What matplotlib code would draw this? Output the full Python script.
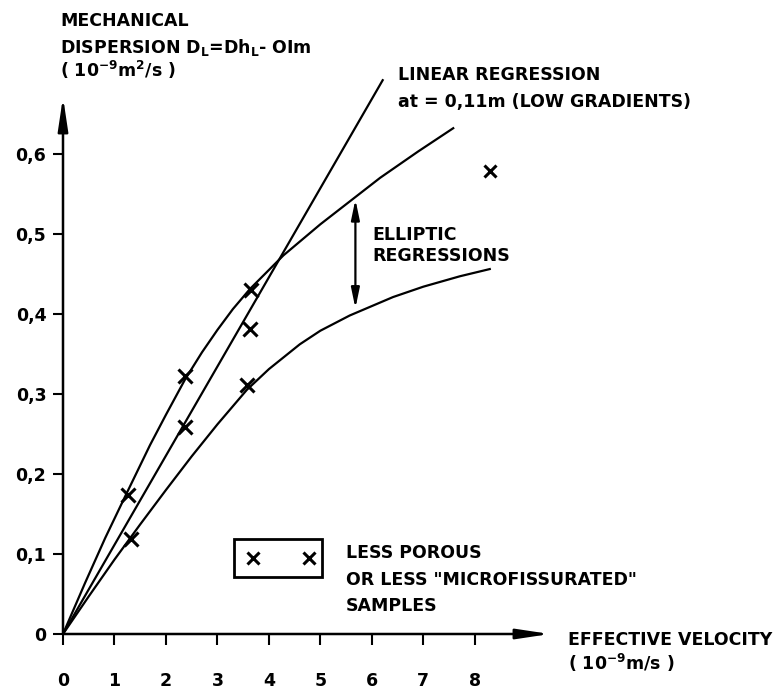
import matplotlib
matplotlib.use("Agg")
import matplotlib.pyplot as plt
from matplotlib.patches import Rectangle

# samples (velocity 10^-9 m/s, dispersion 10^-9 m2/s)
vitesse = [1.27, 1.33, 2.37, 2.37, 3.57, 3.63, 3.66]
dispersion = [0.174, 0.119, 0.322, 0.259, 0.311, 0.381, 0.430]
vitesse_hors = [8.29]
dispersion_hors = [0.578]

# linear regression, a_L = 0.11 m
lin_v = [0, 6.21]
lin_d = [0, 0.692]

# elliptic regressions (upper / lower), traced points
haut_v = [0, 0.43, 0.82, 1.2, 1.69, 2.0, 2.37, 2.7, 3.0, 3.3, 3.63, 4.28, 5.0, 5.7, 6.16, 6.9, 7.58]
haut_d = [0, 0.064, 0.12, 0.171, 0.236, 0.274, 0.318, 0.352, 0.380, 0.406, 0.431, 0.473, 0.512, 0.547, 0.570, 0.603, 0.632]
bas_v = [0, 0.5, 1.0, 1.5, 2.0, 2.5, 3.0, 3.57, 4.0, 4.6, 5.0, 5.57, 6.41, 7.0, 7.71, 8.29]
bas_d = [0, 0.047, 0.093, 0.137, 0.180, 0.222, 0.262, 0.305, 0.331, 0.362, 0.379, 0.398, 0.421, 0.434, 0.447, 0.456]

xticks = [0, 1, 2, 3, 4, 5, 6, 7, 8]
yticks = [0, 0.1, 0.2, 0.3, 0.4, 0.5, 0.6]
ylabels = ["0", "0,1", "0,2", "0,3", "0,4", "0,5", "0,6"]

W, H = 782, 693
plt.rcParams["font.family"] = "DejaVu Sans"
plt.rcParams["font.weight"] = "bold"
plt.rcParams["mathtext.default"] = "bf"
fs = 12.5

fig = plt.figure(figsize=(W / 100, H / 100), dpi=100)
ax = fig.add_axes([63 / W, 1 - 634 / H, 487 / W, 537 / H])
ax.set_xlim(0, 9.46)
ax.set_ylim(0, 0.671)
for s in ax.spines.values():
    s.set_visible(False)
ax.patch.set_alpha(0)

# axes with arrow heads
axe = dict(arrowstyle="-|>,head_length=20,head_width=3", mutation_scale=1, color="black", lw=1.8, shrinkA=0, shrinkB=0)
ax.annotate("", xy=(1, 0), xytext=(0, 0), xycoords="axes fraction", arrowprops=axe)
ax.annotate("", xy=(0, 1), xytext=(0, 0), xycoords="axes fraction", arrowprops=axe)

ax.set_xticks(xticks)
ax.set_xticklabels([str(t) for t in xticks])
ax.set_yticks(yticks)
ax.set_yticklabels(ylabels)
ax.tick_params(axis="x", direction="out", length=8, width=1.5, pad=19, labelsize=fs)
ax.tick_params(axis="y", direction="out", length=7, width=1.5, pad=5, labelsize=fs)

ax.plot(lin_v, lin_d, color="black", lw=1.6, clip_on=False)
ax.plot(haut_v, haut_d, color="black", lw=1.6, clip_on=False)
ax.plot(bas_v, bas_d, color="black", lw=1.6, clip_on=False)
ax.plot(vitesse, dispersion, "x", color="black", ms=10, mew=2.2)
ax.plot(vitesse_hors, dispersion_hors, "x", color="black", ms=9, mew=2.2)

# double arrow between the two elliptic curves
ax.annotate("", xy=(5.68, 0.407), xytext=(5.68, 0.543),
            arrowprops=dict(arrowstyle="<|-|>,head_length=12,head_width=2.5", mutation_scale=1,
                            color="black", lw=1.6, shrinkA=0, shrinkB=0))

# key box
ax.add_patch(Rectangle((3.32, 0.071), 1.71, 0.048, fill=False, lw=2, color="black"))
ax.plot([3.69, 4.77], [0.095, 0.095], "x", color="black", ms=9, mew=2.2)

# texts: (text, x px, baseline px)
textes = [
    ("MECHANICAL", 60, 26),
    ("DISPERSION D$_{L}$=Dh$_{L}$- OIm", 60, 53),
    ("( 10$^{-9}$m$^{2}$/s )", 60, 77),
    ("LINEAR REGRESSION", 398, 80),
    ("at = 0,11m (LOW GRADIENTS)", 398, 107),
    ("ELLIPTIC", 372, 240),
    ("REGRESSIONS", 372, 261),
    ("LESS POROUS", 346, 558),
    ('OR LESS "MICROFISSURATED"', 346, 585),
    ("SAMPLES", 346, 611),
    ("EFFECTIVE VELOCITY", 568, 645),
    ("( 10$^{-9}$m/s )", 568, 670),
]
for t, x, y in textes:
    fig.text(x / W, 1 - y / H, t, fontsize=fs, fontweight="bold", va="baseline", ha="left")

fig.savefig("out.png", dpi=100)
